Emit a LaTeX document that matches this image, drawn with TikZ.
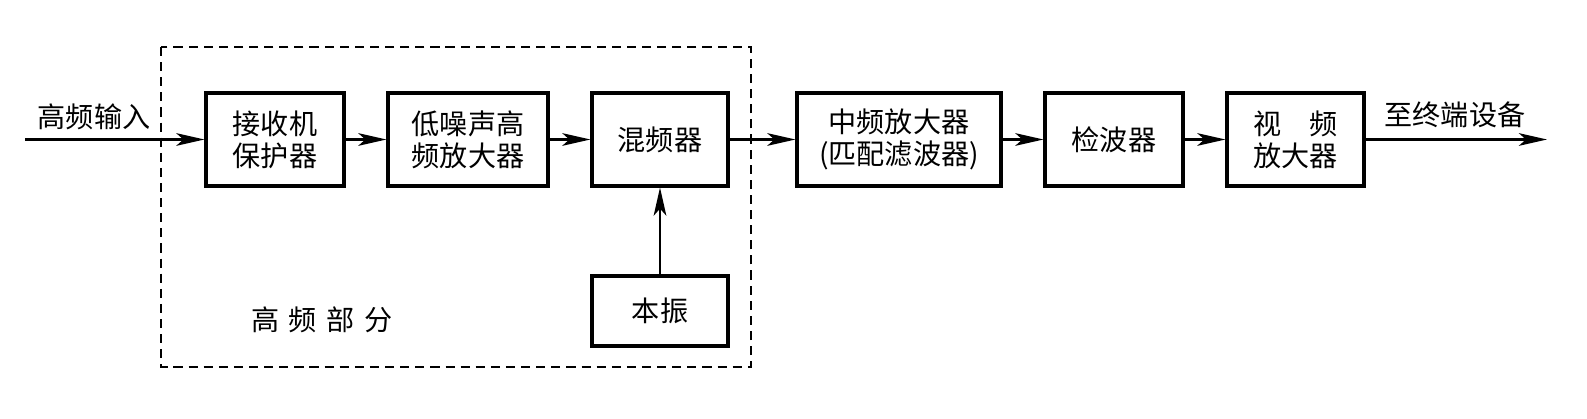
\documentclass[tikz,border=0pt]{standalone}
\usepackage{fontspec}
\newfontfamily\cjk{Noto Sans CJK SC}
\usetikzlibrary{arrows.meta}
\tikzset{
  blk/.style={draw, line width=0.9pt, minimum height=0.93cm, inner sep=0pt,
    align=center, font=\cjk\fontsize{8}{9.1}\selectfont},
  sig/.style={line width=0.6pt, -{Stealth[length=8pt,width=3.6pt,inset=2pt]}},
  txt/.style={font=\cjk\fontsize{8}{9.1}\selectfont},
}
\newcommand{\block}[4]{
  \node[blk, #3] (#1) at #2 {#4};
}
\begin{document}
\begin{tikzpicture}
      \useasboundingbox (0,0) rectangle (15.87,-4.19);
      \draw[line width=0.5pt, dash pattern=on 2.6pt off 1.7pt] (1.61,-0.47) rectangle (7.51,-3.67);
      \block{prot}{(2.75,-1.395)}{minimum width=1.38cm}{接收机\\保护器}
      \block{lna}{(4.68,-1.395)}{minimum width=1.60cm}{低噪声高\\频放大器}
      \block{mix}{(6.60,-1.395)}{minimum width=1.36cm}{混频器}
      \block{lo}{(6.60,-3.11)}{minimum width=1.36cm, minimum height=0.70cm}{本振}
      \block{ifamp}{(8.99,-1.395)}{minimum width=2.04cm}{中频放大器\\(匹配滤波器)}
      \block{det}{(11.14,-1.395)}{minimum width=1.38cm}{检波器}
      \block{vid}{(12.955,-1.395)}{minimum width=1.37cm}{视\hspace{1em}频\\放大器}
      \coordinate (in) at (0.25,-1.395);
      \coordinate (out) at (15.47,-1.395);
      \foreach \a/\b in {in/prot, prot/lna, lna/mix, mix/ifamp, ifamp/det, det/vid, vid/out, lo/mix} {
        \draw[sig] (\a) -- (\b);
      }
      \node[txt] (inlab) at (0.94,-1.17) {高频输入};
      \node[txt] (outlab) at (14.55,-1.15) {至终端设备};
      \node[txt] (rflab) at (3.22,-3.20) {高\hspace{.35em}频\hspace{.35em}部\hspace{.35em}分};
    \end{tikzpicture}
\end{document}
